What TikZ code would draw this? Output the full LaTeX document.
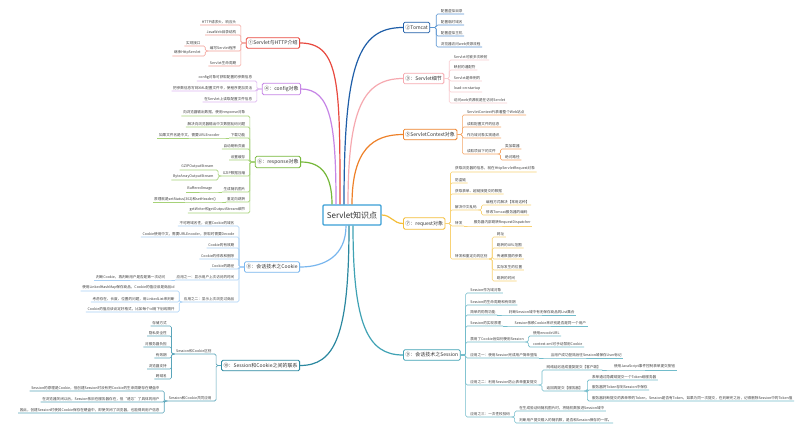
\documentclass[tikz,border=0pt]{standalone}
\usepackage{fontspec}
\setmainfont{Noto Sans CJK SC}
\usetikzlibrary{positioning}

\begin{document}
\begin{tikzpicture}[x=1pt,y=-1pt,
  hub/.style={draw=hubc,line width=1.2pt,rounded corners=1pt,fill=white,text=black!80,
    minimum width=58,minimum height=20,inner sep=2pt,font=\fontsize{8}{9}\selectfont},
  topicR/.style={line width=0.8pt,rounded corners=1.5pt,fill=white,text=black!80,anchor=west,
    inner xsep=2pt,inner ysep=3pt,font=\fontsize{5}{6}\selectfont},
  topicL/.style={topicR,anchor=east},
  leafR/.style={anchor=south west,inner xsep=1.5pt,inner ysep=1pt,text=black!75,
    font=\fontsize{3.6}{4.3}\selectfont},
  leafL/.style={leafR,anchor=south east},
  twig/.style={line width=0.6pt,rounded corners=1.5pt},
  branch/.style={line width=1.2pt}]
% Canvas 800 x 433, y runs downwards
\fill[white] (0,0) rectangle (800,433);
\useasboundingbox (0,0) rectangle (800,433);

\definecolor{hubc}{HTML}{3A9FD6}
\node[hub] (hub) at (352,215) {Servlet知识点};

% (1) Servlet and HTTP - red, left
\definecolor{c1}{HTML}{E8493F}
\definecolor{l1}{HTML}{F3A098}
\node[topicL,draw=c1] (http) at (300,43) {①Servlet与HTTP介绍};
\draw[branch,c1] ([xshift=-12]hub.north) .. controls +(0,-120) and +(40,0) .. (http.east);
\coordinate (httpb) at ([xshift=-5]http.west);
\foreach \i/\y/\t in {1/25/HTTP请求头、响应头,2/35/JavaWeb目录结构,3/51/编写Servlet程序,4/66/Servlet生命周期} {
  \node[leafL,xshift=-3] (http\i) at (httpb |- 0,\y) {\t};
  \draw[twig,l1] (http.west) -- (httpb) |- (http\i.south east) -- (http\i.south west);
}
\coordinate (http3b) at ([xshift=-3]http3.south west);
\foreach \j/\y/\t in {1/46/实现接口,2/56/继承HttpServlet} {
  \node[leafL,xshift=-3] (http3\j) at (http3b |- 0,\y) {\t};
  \draw[twig,l1] (http3.south west) -- (http3b) |- (http3\j.south east) -- (http3\j.south west);
}

% (2) Tomcat - dark blue, right
\definecolor{c2}{HTML}{1F5EA8}
\definecolor{l2}{HTML}{5B96D2}
\node[topicR,draw=c2] (tom) at (403,27.5) {②Tomcat};
\draw[branch,c2] ([xshift=-8]hub.north) .. controls +(0,-140) and +(-45,0) .. (tom.west);
\coordinate (tomb) at ([xshift=6]tom.east);
\foreach \i/\y/\t in {1/14/配置虚拟目录,2/25/配置临时域名,3/36/配置虚拟主机,4/47/浏览器访问web资源流程} {
  \node[leafR,xshift=3] (tom\i) at (tomb |- 0,\y) {\t};
  \draw[twig,l2] (tom.east) -- (tomb) |- (tom\i.south west) -- (tom\i.south east);
}

% (3) Servlet details - pink, right
\definecolor{c3}{HTML}{F6A9B0}
\definecolor{l3}{HTML}{F9CDD1}
\node[topicR,draw=c3] (det) at (403,78.5) {③：Servlet细节};
\draw[branch,c3] ([xshift=-4]hub.north) .. controls +(0,-95) and +(-40,0) .. (det.west);
\coordinate (detb) at ([xshift=5]det.east);
\foreach \i/\y/\t in {1/60/Servlet可被多次映射,2/70/映射的通配符,3/81/Servlet是单例的,4/92/load-on-startup,5/103/访问web资源就是在访问Servlet} {
  \node[leafR,xshift=3] (det\i) at (detb |- 0,\y) {\t};
  \draw[twig,l3] (det.east) -- (detb) |- (det\i.south west) -- (det\i.south east);
}

% (4) config - purple, left
\definecolor{c4}{HTML}{C685E6}
\definecolor{l4}{HTML}{DDB7F1}
\node[topicL,draw=c4] (cfg) at (301,89) {④：config对象};
\draw[branch,c4] ([xshift=-16]hub.north) .. controls +(0,-80) and +(30,0) .. (cfg.east);
\coordinate (cfgb) at ([xshift=-5]cfg.west);
\foreach \i/\y/\t in {1/81/config对象可获取配置的参数信息,2/91/把参数信息写到XML配置文件中，使程序更加灵活,3/102/在Servlet上读取配置文件信息} {
  \node[leafL,xshift=-3] (cfg\i) at (cfgb |- 0,\y) {\t};
  \draw[twig,l4] (cfg.west) -- (cfgb) |- (cfg\i.south east) -- (cfg\i.south west);
}

% (5) ServletContext - orange, right
\definecolor{c5}{HTML}{EE8129}
\definecolor{l5}{HTML}{F4A566}
\node[topicR,draw=c5] (ctx) at (403,134.5) {⑤ServletContext对象};
\draw[branch,c5] (hub.north) .. controls +(0,-55) and +(-30,0) .. (ctx.west);
\coordinate (ctxb) at ([xshift=5]ctx.east);
\foreach \i/\y/\t in {1/115/ServletContext代表着整个Web站点,2/127/读取配置文件的信息,3/138/作为域对象实现通讯,4/154/读取项目下的文件} {
  \node[leafR,xshift=3] (ctx\i) at (ctxb |- 0,\y) {\t};
  \draw[twig,l5] (ctx.east) -- (ctxb) |- (ctx\i.south west) -- (ctx\i.south east);
}
\coordinate (ctx4b) at ([xshift=3]ctx4.south east);
\foreach \j/\y/\t in {1/149/类加载器,2/160/绝对路径} {
  \node[leafR,xshift=3] (ctx4\j) at (ctx4b |- 0,\y) {\t};
  \draw[twig,l5] (ctx4.south east) -- (ctx4b) |- (ctx4\j.south west) -- (ctx4\j.south east);
}

% (6) response - green, left
\definecolor{c6}{HTML}{76B83A}
\definecolor{l6}{HTML}{A6D278}
\node[topicL,draw=c6] (resp) at (301,162) {⑥：response对象};
\draw[branch,c6] ([xshift=-20]hub.north) .. controls +(0,-30) and +(20,0) .. (resp.east);
\coordinate (respb) at ([xshift=-5]resp.west);
\foreach \i/\y/\t in {1/116/向浏览器输出数据，使用response对象,2/127/解决向浏览器输出中文数据乱码问题,3/138/下载功能,4/149/自动刷新页面,5/160/设置缓存,6/176/GZIP数据压缩,7/192/生成随机图片,8/202/重定向跳转,9/213/getWriter和getOutputStream细节} {
  \node[leafL,xshift=-3] (resp\i) at (respb |- 0,\y) {\t};
  \draw[twig,l6] (resp.west) -- (respb) |- (resp\i.south east) -- (resp\i.south west);
}
\foreach \i/\t in {3/如果文件名是中文，需要URLEncoder,7/BufferedImage,8/原理就是setStatus(302)和setHeader()} {
  \node[leafL,xshift=-8] (resp\i x) at (resp\i.south west) {\t};
  \draw[twig,l6] (resp\i.south west) -- (resp\i x.south east) -- (resp\i x.south west);
}
\coordinate (resp6b) at ([xshift=-3]resp6.south west);
\foreach \j/\y/\t in {1/170/GZIPOutputStream,2/180/ByteArrayOutputStream} {
  \node[leafL,xshift=-3] (resp6\j) at (resp6b |- 0,\y) {\t};
  \draw[twig,l6] (resp6.south west) -- (resp6b) |- (resp6\j.south east) -- (resp6\j.south west);
}

% (7) request - yellow, right
\definecolor{c7}{HTML}{F4BE3A}
\definecolor{l7}{HTML}{F8D275}
\node[topicR,draw=c7] (req) at (403,223.5) {⑦：request对象};
\draw[branch,c7] (hub.east) .. controls +(10,0) and +(-10,0) .. (req.west);
\coordinate (reqb) at ([xshift=5]req.east);
\foreach \i/\y/\t in {1/172/获取浏览器的信息，就在HttpServletRequest对象,2/183/防盗链,3/194/获取表单、超链接提交的数据,4/210/解决中文乱码,5/226/转发,6/259/转发和重定向的区别} {
  \node[leafR,xshift=3] (req\i) at (reqb |- 0,\y) {\t};
  \draw[twig,l7] (req.east) -- (reqb) |- (req\i.south west) -- (req\i.south east);
}
\node[leafR,xshift=8] (req5x) at (req5.south east) {服务器内部跳转RequestDispatcher};
\draw[twig,l7] (req5.south east) -- (req5x.south west) -- (req5x.south east);
\coordinate (req4b) at ([xshift=3]req4.south east);
\foreach \j/\y/\t in {1/205/编程方式解决【常用这种】,2/215/修改Tomcat服务器的编码} {
  \node[leafR,xshift=3] (req4\j) at (req4b |- 0,\y) {\t};
  \draw[twig,l7] (req4.south east) -- (req4b) |- (req4\j.south west) -- (req4\j.south east);
}
\coordinate (req6b) at ([xshift=3]req6.south east);
\foreach \j/\y/\t in {1/237/网址,2/248/跳转的URL范围,3/259/传递数据的参数,4/270/实际发生的位置,5/281/跳转的时间} {
  \node[leafR,xshift=3] (req6\j) at (req6b |- 0,\y) {\t};
  \draw[twig,l7] (req6.south east) -- (req6b) |- (req6\j.south west) -- (req6\j.south east);
}

% (8) Cookie - light blue, left
\definecolor{c8}{HTML}{78B6EE}
\definecolor{l8}{HTML}{A8D0F6}
\node[topicL,draw=c8] (ck) at (300,267) {⑧：会话技术之Cookie};
\draw[branch,c8] ([xshift=-6]hub.south) .. controls +(0,30) and +(25,0) .. (ck.east);
\coordinate (ckb) at ([xshift=-5]ck.west);
\foreach \i/\y/\t in {1/226/不可跨域名性，设置Cookie的域名,2/237/Cookie使用中文，需要URLEncoder，获取时需要Decode,3/248/Cookie的有效期,4/259/Cookie的修改和删除,5/269/Cookie的路径,6/280/应用之一：显示用户上次访问的时间,7/302/应用之二：显示上次浏览过商品} {
  \node[leafL,xshift=-3] (ck\i) at (ckb |- 0,\y) {\t};
  \draw[twig,l8] (ck.west) -- (ckb) |- (ck\i.south east) -- (ck\i.south west);
}
\node[leafL,xshift=-8] (ck6x) at (ck6.south west) {判断Cookie，再判断用户是否是第一次访问};
\draw[twig,l8] (ck6.south west) -- (ck6x.south east) -- (ck6x.south west);
\coordinate (ck7b) at ([xshift=-3]ck7.south west);
\foreach \j/\y/\t in {1/291/使用LinkedHashMap保存商品，Cookie的值应该是商品id,2/302/考虑存在、长度、位置的问题，用LinkedList来判断,3/312/Cookie的值应该设定好格式，比如每个id用下划线隔开} {
  \node[leafL,xshift=-3] (ck7\j) at (ck7b |- 0,\y) {\t};
  \draw[twig,l8] (ck7.south west) -- (ck7b) |- (ck7\j.south east) -- (ck7\j.south west);
}

% (9) Session - teal, right
\definecolor{c9}{HTML}{3FA2B4}
\definecolor{l9}{HTML}{72BCCB}
\node[topicR,draw=c9] (ses) at (403,355) {⑨：会话技术之Session};
\draw[branch,c9] ([xshift=1]hub.south) .. controls +(0,100) and +(-35,0) .. (ses.west);
\coordinate (sesb) at ([xshift=5]ses.east);
\foreach \i/\y/\t in {1/293/Session作为域对象,2/305/Session的生命周期和有效期,3/315/简单的购物功能,4/326/Session的实现原理,5/342/禁用了Cookie后如何使用Session,6/358/应用之一：使用Session完成用户简单登陆,7/385/应用之二：利用Session防止表单重复提交,8/417/应用之三：一次性校验码} {
  \node[leafR,xshift=3] (ses\i) at (sesb |- 0,\y) {\t};
  \draw[twig,l9] (ses.east) -- (sesb) |- (ses\i.south west) -- (ses\i.south east);
}
\foreach \i/\t in {3/判断Session域中有无保存商品的List集合,4/Session依赖Cookie来识别是否是同一个用户,6/当用户成功登陆后往Session域保存User标记} {
  \node[leafR,xshift=10] (ses\i x) at (ses\i.south east) {\t};
  \draw[twig,l9] (ses\i.south east) -- (ses\i x.south west) -- (ses\i x.south east);
}
\coordinate (ses5b) at ([xshift=3]ses5.south east);
\foreach \j/\y/\t in {1/336/使用encodeURL,2/347/context.xml可手动禁用Cookie} {
  \node[leafR,xshift=3] (ses5\j) at (ses5b |- 0,\y) {\t};
  \draw[twig,l9] (ses5.south east) -- (ses5b) |- (ses5\j.south west) -- (ses5\j.south east);
}
\coordinate (ses7b) at ([xshift=3]ses7.south east);
\foreach \j/\y/\t in {1/370/网络延迟造成重复提交【客户端】,2/391/返回再提交【服务器】} {
  \node[leafR,xshift=3] (ses7\j) at (ses7b |- 0,\y) {\t};
  \draw[twig,l9] (ses7.south east) -- (ses7b) |- (ses7\j.south west) -- (ses7\j.south east);
}
\node[leafR,xshift=10] (ses71x) at (ses71.south east) {使用JavaScript事件控制表单提交按钮};
\draw[twig,l9] (ses71.south east) -- (ses71x.south west) -- (ses71x.south east);
\coordinate (ses72b) at ([xshift=3]ses72.south east);
\foreach \k/\y/\t in {1/380/表单通过隐藏域提交一个Token给服务器,2/390/服务器将Token存到Session中保存,3/401/服务器判断提交的表单带的Token，Session是否有Token，如果为同一次提交，在判断完之后，记得删除Session中的Token值} {
  \node[leafR,xshift=3] (ses72\k) at (ses72b |- 0,\y) {\t};
  \draw[twig,l9] (ses72.south east) -- (ses72b) |- (ses72\k.south west) -- (ses72\k.south east);
}
\coordinate (ses8b) at ([xshift=3]ses8.south east);
\foreach \j/\y/\t in {1/411/在生成验证码随机图片时，将随机数放进Session域中,2/423/判断用户提交输入的随机数，是否和Session保存的一样。} {
  \node[leafR,xshift=3] (ses8\j) at (ses8b |- 0,\y) {\t};
  \draw[twig,l9] (ses8.south east) -- (ses8b) |- (ses8\j.south west) -- (ses8\j.south east);
}

% (10) Session and Cookie - dark teal, left
\definecolor{c10}{HTML}{2B88A0}
\definecolor{l10}{HTML}{5AA5BA}
\node[topicL,draw=c10] (link) at (300,365.5) {⑩：Session和Cookie之间的联系};
\draw[branch,c10] ([xshift=-3]hub.south) .. controls +(0,110) and +(35,0) .. (link.east);
\coordinate (linkb) at ([xshift=-5]link.west);
\foreach \i/\y/\t in {1/354/Session和Cookie区别,2/401/Session和Cookie共同应用} {
  \node[leafL,xshift=-3] (link\i) at (linkb |- 0,\y) {\t};
  \draw[twig,l10] (link.west) -- (linkb) |- (link\i.south east) -- (link\i.south west);
}
\coordinate (link1b) at ([xshift=-3]link1.south west);
\foreach \j/\y/\t in {1/326/存储方式,2/336/隐私安全性,3/347/对服务器负担,4/358/有效期,5/369/浏览器支持,6/379/跨域名} {
  \node[leafL,xshift=-3] (link1\j) at (link1b |- 0,\y) {\t};
  \draw[twig,l10] (link1.south west) -- (link1b) |- (link1\j.south east) -- (link1\j.south west);
}
\coordinate (link2b) at ([xshift=-3]link2.south west);
\foreach \j/\y/\t in {1/391/Session的原理是Cookie，但创建Session时没有把Cookie的生命周期存在硬盘中,2/402/在浏览器关闭以后，Session依旧在服务器存在，但“遗忘”了具体的用户,3/413/因此，创建Session时使其Cookie保存在硬盘中，即使关闭了浏览器，也能得到用户信息} {
  \node[leafL,xshift=-3] (link2\j) at (link2b |- 0,\y) {\t};
  \draw[twig,l10] (link2.south west) -- (link2b) |- (link2\j.south east) -- (link2\j.south west);
}
\end{tikzpicture}
\end{document}
